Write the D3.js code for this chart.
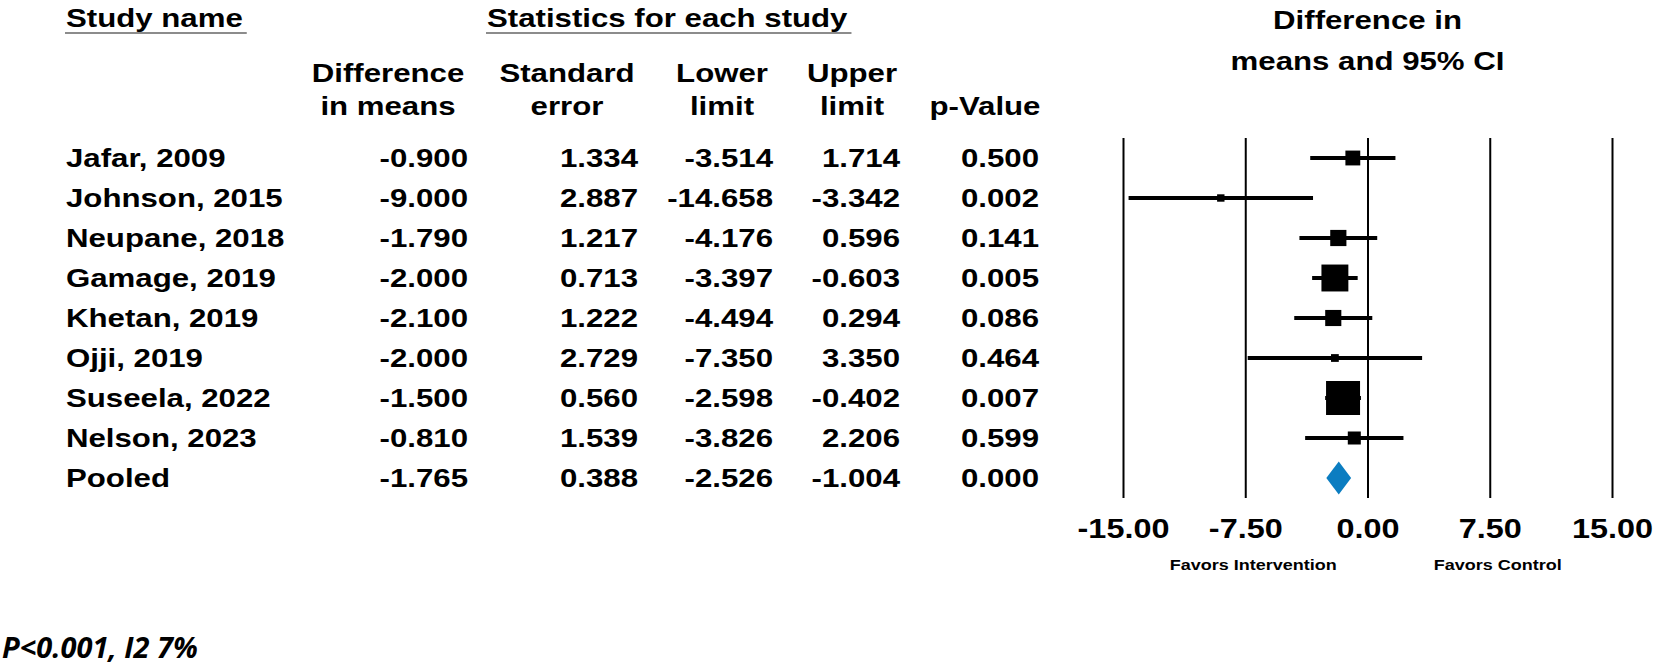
<!DOCTYPE html>
<html>
<head>
<meta charset="utf-8">
<script src="https://cdn.jsdelivr.net/npm/d3@7"></script>
<style>
  html, body { margin: 0; padding: 0; background: #fff; }
  svg { display: block; }
  text { font-family: "Liberation Sans", Arial, sans-serif; fill: #000; }
</style>
</head>
<body>
<svg id="chart" width="1654" height="667"></svg>
<script>
// ---------------- data ----------------
const studies      = ["Jafar, 2009", "Johnson, 2015", "Neupane, 2018", "Gamage, 2019", "Khetan, 2019", "Ojji, 2019", "Suseela, 2022", "Nelson, 2023", "Pooled"];
const diffMeans    = [-0.900, -9.000, -1.790, -2.000, -2.100, -2.000, -1.500, -0.810, -1.765];
const stdErrors    = [1.334, 2.887, 1.217, 0.713, 1.222, 2.729, 0.560, 1.539, 0.388];
const lowerLimits  = [-3.514, -14.658, -4.176, -3.397, -4.494, -7.350, -2.598, -3.826, -2.526];
const upperLimits  = [1.714, -3.342, 0.596, -0.603, 0.294, 3.350, -0.402, 2.206, -1.004];
const pValues      = [0.500, 0.002, 0.141, 0.005, 0.086, 0.464, 0.007, 0.599, 0.000];
const isPooled     = [false, false, false, false, false, false, false, false, true];
const tickValues   = [-15, -7.5, 0, 7.5, 15];
const headerLine1  = ["Difference", "Standard", "Lower", "Upper", ""];
const headerLine2  = ["in means", "error", "limit", "limit", "p-Value"];
const footnote     = "P<0.001, I2 7%";

// ---------------- layout ----------------
const SX = 1.2;                       // horizontal text stretch of the original
const colRight = [468, 638, 773, 900, 1039];
const colHeadCenter = [388, 567, 722, 852, 985];
const nameX = 66;
const rowTop = 158, rowStep = 40;
const plotTop = 138, plotBottom = 498;

const locale = d3.formatLocale({decimal: ".", thousands: ",", grouping: [3], currency: ["", ""], minus: "-"});
const f3 = locale.format(".3f");
const f2 = locale.format(".2f");

const svg = d3.select("#chart");

function txt(g, x, y, s, opt = {}) {
  const t = g.append("text")
    .attr("transform", `translate(${x},${y}) scale(${opt.sx ?? SX},1)`)
    .attr("text-anchor", opt.anchor || "start")
    .style("font-size", (opt.size || 26) + "px")
    .style("font-weight", opt.weight || "bold")
    .text(s);
  if (opt.style) t.style("font-style", opt.style);
  if (opt.family) t.style("font-family", opt.family);
  return t;
}

const rows = studies.map((s, i) => ({
  name: s, diff: diffMeans[i], se: stdErrors[i], lo: lowerLimits[i], hi: upperLimits[i],
  p: pValues[i], pooled: isPooled[i], i
}));

const y = d3.scalePoint().domain(d3.range(rows.length)).range([rowTop, rowTop + rowStep * (rows.length - 1)]);
const x = d3.scaleLinear().domain([-15, 15]).range([1123, 1612]);
const boxSize = d3.scaleLinear().domain([0, 1 / 0.560]).range([1, 34]);

// ---------------- headers ----------------
const hdr = svg.append("g");
const sn = txt(hdr, nameX, 27, "Study name");
const st = txt(hdr, 487, 27, "Statistics for each study");
[[sn, nameX], [st, 487]].forEach(([t, x0]) => {
  const w = t.node().getComputedTextLength() * SX;
  hdr.append("line").attr("x1", x0 - 1).attr("x2", x0 + w + 4)
    .attr("y1", 33).attr("y2", 33).attr("stroke", "#666").attr("stroke-width", 1.5);
});
headerLine1.forEach((h, j) => { if (h) txt(hdr, colHeadCenter[j], 82, h, {anchor: "middle"}); });
headerLine2.forEach((h, j) => txt(hdr, colHeadCenter[j], 115, h, {anchor: "middle"}));
txt(hdr, x(0), 29, "Difference in", {anchor: "middle"});
txt(hdr, x(0), 70, "means and 95% CI", {anchor: "middle"});

// ---------------- table ----------------
const tbl = svg.append("g");
rows.forEach(r => {
  const yb = y(r.i) + 9;
  txt(tbl, nameX, yb, r.name);
  [r.diff, r.se, r.lo, r.hi, r.p].forEach((v, j) => txt(tbl, colRight[j], yb, f3(v), {anchor: "end"}));
});

// ---------------- axis / grid ----------------
const axis = d3.axisBottom(x).tickValues(tickValues).tickFormat(f2)
  .tickSizeInner(-(plotBottom - plotTop)).tickSizeOuter(0).tickPadding(21);
const ax = svg.append("g").attr("transform", `translate(0,${plotBottom})`).call(axis);
ax.select(".domain").remove();
ax.selectAll(".tick line").attr("stroke", "#000").attr("stroke-width", 2);
ax.selectAll(".tick text")
  .attr("transform", `scale(${SX},1)`)
  .style("font-size", "27px").style("font-weight", "bold")
  .style("font-family", "'Liberation Sans', Arial, sans-serif").attr("fill", "#000");

txt(svg, x(-7.5) + 8, 570, "Favors Intervention", {anchor: "middle", size: 15});
txt(svg, x(7.5) + 8, 570, "Favors Control", {anchor: "middle", size: 15});

// ---------------- marks ----------------
const marks = svg.append("g");
const studyRows = rows.filter(r => !r.pooled);
marks.selectAll("line.ci").data(studyRows).join("line").attr("class", "ci")
  .attr("x1", d => x(d.lo)).attr("x2", d => x(d.hi))
  .attr("y1", d => y(d.i)).attr("y2", d => y(d.i))
  .attr("stroke", "#000").attr("stroke-width", 4);
marks.selectAll("rect.box").data(studyRows).join("rect").attr("class", "box")
  .attr("x", d => x(d.diff) - boxSize(1 / d.se) / 2)
  .attr("y", d => y(d.i) - boxSize(1 / d.se) / 2)
  .attr("width", d => boxSize(1 / d.se)).attr("height", d => boxSize(1 / d.se))
  .attr("fill", "#000");
marks.selectAll("path.diamond").data(rows.filter(r => r.pooled)).join("path").attr("class", "diamond")
  .attr("d", d => {
    const h = 16.5, yc = y(d.i);
    return `M${x(d.lo)},${yc}L${x(d.diff)},${yc - h}L${x(d.hi)},${yc}L${x(d.diff)},${yc + h}Z`;
  })
  .attr("fill", "#0b7dc1");

// ---------------- footnote ----------------
txt(svg, 2, 658, footnote, {sx: 1, size: 29, style: "italic", family: "'Open Sans', 'Noto Sans', sans-serif"});
</script>
</body>
</html>
